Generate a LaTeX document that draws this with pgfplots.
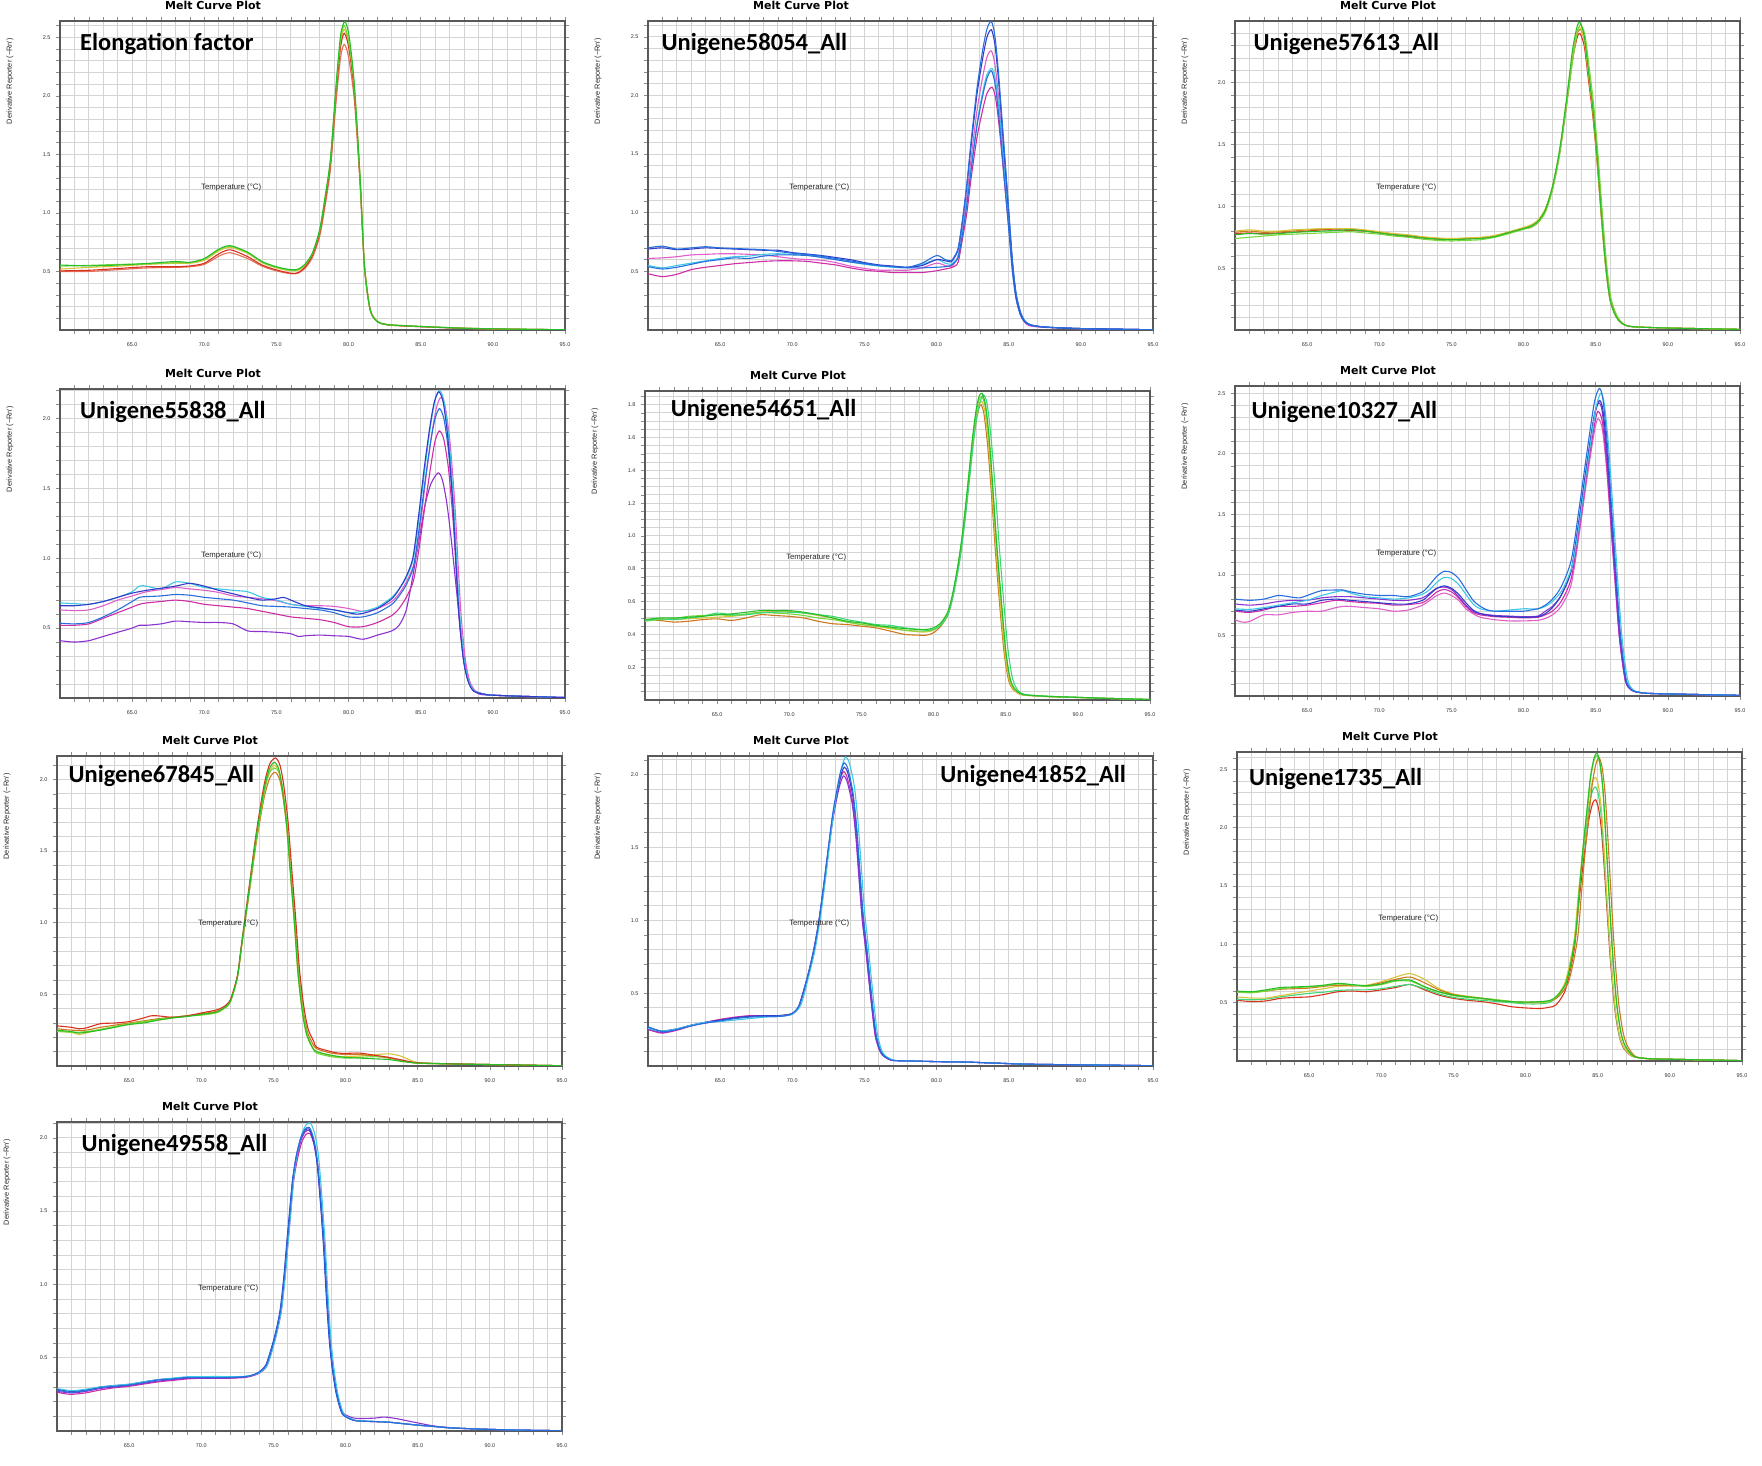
\documentclass[border=0pt]{standalone}
\usepackage{fontspec}
\setmainfont{Liberation Sans}
\newfontfamily\djv{DejaVu Sans}
\newfontfamily\carl{Carlito}
\usepackage{pgfplots}
\pgfplotsset{compat=1.18}
\newcommand\titlefont{\djv\bfseries\fontsize{11}{12}\selectfont}
\newcommand\genefont{\carl\bfseries\fontsize{24.5}{28}\selectfont}
\definecolor{cgreen}{RGB}{40,190,40}
\definecolor{clgreen}{RGB}{120,215,60}
\definecolor{cmint}{RGB}{60,215,120}
\definecolor{cyellow}{RGB}{215,195,60}
\definecolor{corange}{RGB}{205,120,30}
\definecolor{cred}{RGB}{215,50,30}
\definecolor{clred}{RGB}{230,110,90}
\definecolor{cblue}{RGB}{40,110,220}
\definecolor{cnavy}{RGB}{50,60,200}
\definecolor{ccyan}{RGB}{60,200,230}
\definecolor{cmag}{RGB}{205,45,165}
\definecolor{cpink}{RGB}{225,95,200}
\definecolor{cpurple}{RGB}{140,50,210}
\pgfplotsset{
 mc/.style={
  scale only axis, width=505pt, height=309pt, anchor=south west,
  xmin=60, xmax=95, ymin=0,
  xtick={65,70,...,95},
  minor xtick={61,62,...,94},
  grid=both,
  major grid style={black!17, line width=1pt},
  minor grid style={black!17, line width=1pt},
  axis line style={black!65, line width=1.5pt},
  tick align=outside,
  tick style={black!45, line width=0.6pt},
  major tick length=4pt, minor tick length=4pt,
  /pgf/number format/assume math mode=true,
  tick label style={font=\fontsize{5.5}{6}\selectfont, text=black!80},
  xticklabel style={yshift=-5pt, /pgf/number format/.cd, fixed, fixed zerofill, precision=1},
  yticklabel style={xshift=-2pt, /pgf/number format/.cd, fixed, fixed zerofill, precision=1},
  title={Melt Curve Plot},
  every axis title/.style={at={(axis description cs:0.303,1)}, anchor=base, yshift=11.5pt, font=\titlefont},
  xlabel={Temperature (°C)},
  every axis x label/.style={at={(axis description cs:0.339,0.46)}, anchor=center, font=\fontsize{7.8}{9}\selectfont, text=black!85},
  ylabel={Derivative Reporter (−Rn′)},
  every axis y label/.style={at={(axis description cs:-0.099,0.805)}, rotate=90, anchor=center, font=\fontsize{7.4}{9}\selectfont, text=black!85},
  every axis plot/.append style={line width=1.1pt, no marks, smooth, tension=0.45},
 }
}
\begin{document}
\begin{tikzpicture}[x=1pt,y=1pt]
\useasboundingbox (0,0) rectangle (1762,1466);
%================ P1 Elongation factor
\begin{axis}[mc, at={(60pt,1136pt)}, ymax=2.64, ytick={0.5,1.0,1.5,2.0,2.5}, minor ytick={0.1,0.2,...,2.6}]
\addplot[clred] coordinates {(60,.50)(62,.50)(64,.515)(66,.53)(68,.535)(69,.54)(70,.56)(71,.63)(71.8,.66)(73,.61)(74,.545)(75,.505)(76,.48)(76.5,.485)(77,.53)(77.5,.62)(78,.80)(78.4,1.08)(78.75,1.38)(79.15,1.97)(79.45,2.33)(79.7,2.44)(80,2.33)(80.4,1.96)(80.8,1.23)(81.1,.53)(81.5,.17)(82,.07)(82.5,.048)(83,.04)(85,.028)(88,.014)(91,.007)(95,.002)};
\addplot[cyellow] coordinates {(60,.52)(62,.535)(64,.545)(66,.56)(68,.57)(69,.57)(70,.595)(71,.675)(71.8,.705)(73,.655)(74,.575)(75,.53)(76,.505)(76.5,.51)(77,.55)(77.5,.645)(78,.84)(78.4,1.13)(78.75,1.44)(79.15,2.06)(79.45,2.45)(79.7,2.57)(80,2.45)(80.4,2.06)(80.8,1.29)(81.1,.56)(81.5,.18)(82,.075)(82.5,.05)(83,.043)(85,.03)(88,.016)(91,.008)(95,.002)};
\addplot[cred] coordinates {(60,.505)(62,.51)(64,.525)(66,.54)(68,.54)(69,.547)(70,.57)(71,.65)(71.8,.685)(73,.627)(74,.555)(75,.513)(76,.485)(76.5,.49)(77,.54)(77.5,.64)(78,.83)(78.4,1.12)(78.75,1.43)(79.15,2.05)(79.45,2.42)(79.7,2.535)(80,2.42)(80.4,2.03)(80.8,1.27)(81.1,.55)(81.5,.17)(82,.07)(82.5,.05)(83,.04)(85,.028)(88,.014)(91,.007)(95,.002)};
\addplot[clgreen] coordinates {(60,.545)(62,.552)(64,.56)(66,.565)(68,.575)(69,.575)(70,.605)(71,.685)(71.8,.715)(73,.66)(74,.58)(75,.535)(76,.51)(76.5,.515)(77,.56)(77.5,.655)(78,.85)(78.4,1.15)(78.75,1.46)(79.15,2.09)(79.45,2.48)(79.7,2.60)(80,2.47)(80.4,2.07)(80.8,1.28)(81.1,.55)(81.5,.17)(82,.07)(82.5,.05)(83,.042)(85,.03)(88,.015)(91,.008)(95,.002)};
\addplot[cgreen] coordinates {(60,.555)(62,.548)(64,.555)(66,.568)(68,.585)(69,.578)(70,.61)(71,.69)(71.8,.72)(73,.665)(74,.585)(75,.54)(76,.515)(76.5,.52)(77,.565)(77.5,.66)(78,.86)(78.4,1.16)(78.75,1.47)(79.15,2.12)(79.45,2.52)(79.75,2.635)(80.05,2.5)(80.4,2.1)(80.8,1.3)(81.1,.55)(81.5,.17)(82,.07)(82.5,.05)(83,.043)(85,.03)(88,.015)(91,.008)(95,.002)};
\node[anchor=base west, font=\genefont] at (rel axis cs:0.033,0.904) {Elongation factor};
\end{axis}
%================ P2 Unigene58054
\begin{axis}[mc, at={(648pt,1136pt)}, ymax=2.635, ytick={0.5,1.0,1.5,2.0,2.5}, minor ytick={0.1,0.2,...,2.6}]
\addplot[cmag] coordinates {(60,.48)(61,.455)(62,.475)(63,.515)(64,.535)(65,.55)(66,.565)(67,.575)(68,.585)(69,.59)(70,.59)(71,.585)(72,.57)(73,.555)(74,.53)(75,.51)(76,.50)(77,.49)(78,.49)(79,.49)(80,.505)(80.6,.52)(81,.53)(81.2,.54)(81.5,.58)(81.8,.78)(82.1,1.0)(82.4,1.30)(82.8,1.64)(83.2,1.88)(83.5,2.02)(83.85,2.07)(84.1,1.97)(84.35,1.72)(84.75,1.20)(85.05,.81)(85.3,.48)(85.55,.25)(85.85,.12)(86.15,.06)(86.5,.035)(87.5,.022)(90,.011)(95,.002)};
\addplot[cpink] coordinates {(60,.61)(61,.615)(62,.625)(63,.64)(64,.645)(65,.65)(66,.65)(67,.645)(68,.64)(69,.625)(70,.61)(71,.60)(72,.595)(73,.575)(74,.545)(75,.525)(76,.51)(77,.51)(78,.51)(79,.53)(80,.57)(80.6,.55)(81,.54)(81.2,.56)(81.5,.64)(81.8,.86)(82.1,1.14)(82.4,1.47)(82.8,1.87)(83.2,2.16)(83.5,2.33)(83.8,2.38)(84.05,2.26)(84.3,1.98)(84.7,1.38)(85,.93)(85.25,.55)(85.5,.29)(85.8,.14)(86.1,.07)(86.5,.04)(87.5,.025)(90,.012)(95,.002)};
\addplot[ccyan] coordinates {(60,.55)(61,.53)(62,.55)(63,.57)(64,.59)(65,.61)(66,.625)(67,.63)(68,.645)(69,.65)(70,.645)(71,.64)(72,.62)(73,.60)(74,.58)(75,.56)(76,.545)(77,.535)(78,.53)(79,.56)(80,.60)(80.6,.57)(81,.56)(81.2,.58)(81.5,.63)(81.8,.84)(82.1,1.09)(82.4,1.39)(82.8,1.76)(83.2,2.03)(83.5,2.18)(83.85,2.23)(84.1,2.12)(84.35,1.85)(84.75,1.29)(85.05,.87)(85.3,.51)(85.55,.27)(85.85,.13)(86.15,.07)(86.5,.04)(87.5,.025)(90,.012)(95,.002)};
\addplot[cblue] coordinates {(60,.54)(61,.52)(62,.535)(63,.56)(64,.585)(65,.60)(66,.615)(67,.61)(68,.63)(69,.64)(70,.64)(71,.635)(72,.62)(73,.60)(74,.58)(75,.565)(76,.55)(77,.54)(78,.53)(79,.53)(80,.535)(80.6,.54)(81,.55)(81.2,.57)(81.5,.62)(81.8,.82)(82.1,1.07)(82.4,1.37)(82.8,1.74)(83.2,2.0)(83.5,2.15)(83.8,2.21)(84.05,2.1)(84.3,1.84)(84.7,1.28)(85,.86)(85.25,.5)(85.5,.27)(85.8,.13)(86.1,.07)(86.5,.04)(87.5,.025)(90,.012)(95,.002)};
\addplot[cnavy] coordinates {(60,.69)(61,.70)(62,.685)(63,.69)(64,.70)(66,.69)(68,.68)(69,.68)(70,.66)(72,.635)(74,.60)(75,.575)(76,.555)(77,.545)(78,.535)(79,.55)(80,.60)(80.6,.59)(81,.58)(81.2,.61)(81.5,.69)(81.8,.93)(82.1,1.23)(82.4,1.58)(82.8,2.01)(83.2,2.32)(83.5,2.50)(83.8,2.56)(84.05,2.43)(84.3,2.12)(84.7,1.48)(85,1.0)(85.25,.59)(85.5,.31)(85.8,.15)(86.1,.077)(86.5,.045)(87.5,.025)(90,.012)(95,.002)};
\addplot[cblue] coordinates {(60,.70)(61,.715)(62,.69)(63,.70)(64,.71)(65,.70)(66,.695)(67,.69)(68,.685)(69,.67)(70,.655)(71,.645)(72,.63)(73,.61)(74,.59)(75,.57)(76,.55)(77,.54)(78,.535)(79,.57)(80,.635)(80.6,.60)(81,.59)(81.2,.62)(81.5,.70)(81.8,.945)(82.1,1.25)(82.4,1.62)(82.8,2.06)(83.2,2.39)(83.5,2.57)(83.8,2.63)(84.05,2.50)(84.3,2.18)(84.7,1.53)(85,1.03)(85.25,.60)(85.5,.32)(85.8,.16)(86.1,.08)(86.5,.045)(87.5,.025)(90,.012)(95,.002)};
\node[anchor=base west, font=\genefont] at (rel axis cs:0.02,0.904) {Unigene58054\_All};
\end{axis}
%================ P3 Unigene57613
\begin{axis}[mc, at={(1235pt,1136pt)}, ymax=2.5, ytick={0.5,1.0,1.5,2.0}, minor ytick={0.1,0.2,...,2.4}]
\addplot[cred] coordinates {(60,.78)(61,.785)(62,.78)(63,.785)(64,.79)(65,.80)(66,.81)(67,.81)(68,.805)(69,.80)(70,.785)(71,.77)(72,.755)(73,.745)(74,.735)(75,.735)(76,.74)(77,.745)(78,.755)(79,.785)(80,.82)(80.5,.83)(81,.87)(81.5,.96)(82,1.14)(82.5,1.43)(83,1.84)(83.4,2.19)(83.7,2.36)(83.9,2.40)(84.2,2.30)(84.5,2.02)(84.8,1.73)(85.1,1.35)(85.4,.9)(85.7,.5)(86,.24)(86.4,.11)(86.8,.054)(87.5,.027)(90,.016)(95,.005)};
\addplot[corange] coordinates {(60,.79)(61,.80)(62,.79)(63,.795)(64,.80)(65,.81)(66,.815)(67,.82)(68,.815)(69,.805)(70,.79)(71,.775)(72,.765)(73,.75)(74,.74)(75,.735)(76,.74)(77,.745)(78,.76)(79,.79)(80,.825)(80.5,.84)(81,.88)(81.5,.97)(82,1.15)(82.5,1.44)(83,1.86)(83.4,2.22)(83.7,2.39)(83.95,2.43)(84.25,2.33)(84.55,2.04)(84.85,1.75)(85.15,1.36)(85.45,.9)(85.75,.5)(86.05,.24)(86.45,.11)(86.85,.054)(87.5,.027)(90,.016)(95,.005)};
\addplot[cyellow] coordinates {(60,.80)(61,.81)(62,.80)(63,.80)(64,.81)(65,.815)(66,.82)(67,.82)(68,.82)(69,.81)(70,.795)(71,.78)(72,.77)(73,.755)(74,.745)(75,.74)(76,.745)(77,.75)(78,.765)(79,.795)(80,.83)(80.5,.85)(81,.89)(81.5,.98)(82,1.16)(82.5,1.45)(83,1.87)(83.4,2.24)(83.7,2.41)(83.9,2.45)(84.2,2.35)(84.5,2.06)(84.8,1.77)(85.1,1.37)(85.4,.91)(85.7,.5)(86,.24)(86.4,.11)(86.8,.054)(87.5,.027)(90,.016)(95,.005)};
\addplot[clgreen] coordinates {(60,.74)(61,.75)(62,.76)(63,.77)(64,.775)(65,.78)(66,.785)(67,.79)(68,.795)(69,.785)(70,.775)(71,.76)(72,.75)(73,.735)(74,.725)(75,.72)(76,.725)(77,.73)(78,.75)(79,.78)(80,.815)(80.5,.83)(81,.87)(81.5,.95)(82,1.13)(82.5,1.42)(83,1.84)(83.45,2.22)(83.75,2.42)(83.95,2.47)(84.25,2.39)(84.55,2.12)(84.85,1.83)(85.15,1.43)(85.45,.96)(85.75,.54)(86.05,.26)(86.45,.12)(86.85,.056)(87.5,.028)(90,.016)(95,.005)};
\addplot[cgreen] coordinates {(60,.77)(61,.78)(62,.775)(63,.78)(64,.79)(65,.795)(66,.80)(67,.805)(68,.81)(69,.80)(70,.785)(71,.77)(72,.76)(73,.745)(74,.735)(75,.73)(76,.735)(77,.74)(78,.755)(79,.79)(80,.82)(80.5,.84)(81,.88)(81.5,.97)(82,1.16)(82.5,1.46)(83,1.89)(83.4,2.27)(83.7,2.45)(83.9,2.49)(84.2,2.38)(84.5,2.09)(84.8,1.79)(85.1,1.39)(85.4,.92)(85.7,.51)(86,.24)(86.4,.11)(86.8,.054)(87.5,.027)(90,.016)(95,.005)};
\node[anchor=base west, font=\genefont] at (rel axis cs:0.03,0.904) {Unigene57613\_All};
\end{axis}
%================ P4 Unigene55838
\begin{axis}[mc, at={(60pt,768pt)}, ymax=2.21, ytick={0.5,1.0,1.5,2.0}, minor ytick={0.1,0.2,...,2.2}]
\addplot[cpurple] coordinates {(60,.41)(61,.40)(62,.41)(63,.44)(64,.47)(65,.50)(65.5,.52)(66,.52)(67,.53)(68,.55)(69,.545)(70,.54)(71,.54)(72,.53)(73,.48)(74,.475)(75,.47)(76,.46)(76.5,.44)(77,.445)(78,.45)(79,.445)(80,.44)(81,.42)(82,.45)(83,.48)(83.5,.52)(84,.63)(84.5,.9)(85,1.2)(85.3,1.38)(85.7,1.53)(86.2,1.61)(86.5,1.56)(86.8,1.4)(87.1,1.15)(87.4,.85)(87.7,.55)(88,.3)(88.4,.1)(89,.03)(90,.02)(92,.012)(95,.003)};
\addplot[cmag] coordinates {(60,.52)(61,.52)(62,.53)(63,.57)(64,.61)(65,.65)(65.5,.67)(66,.68)(67,.69)(68,.70)(69,.69)(70,.67)(71,.66)(72,.65)(73,.64)(74,.62)(75,.60)(76,.58)(77,.57)(78,.56)(79,.54)(80,.51)(81,.51)(82,.54)(83,.59)(83.5,.64)(84,.72)(84.5,.84)(84.9,1.08)(85.3,1.38)(85.7,1.66)(86,1.84)(86.3,1.91)(86.6,1.85)(86.9,1.66)(87.1,1.45)(87.3,1.19)(87.5,.84)(87.7,.52)(88,.25)(88.3,.12)(88.7,.05)(89.5,.025)(90,.02)(92,.012)(95,.003)};
\addplot[cpink] coordinates {(60,.63)(61,.625)(62,.63)(63,.66)(64,.70)(65,.73)(66,.76)(67,.775)(68,.79)(69,.78)(70,.77)(71,.755)(72,.73)(73,.72)(74,.71)(75,.695)(76,.67)(77,.66)(78,.66)(79,.655)(80,.64)(81,.62)(82,.64)(83,.69)(83.6,.76)(84.1,.85)(84.6,.98)(85,1.26)(85.4,1.61)(85.8,1.91)(86.1,2.08)(86.4,2.15)(86.7,2.08)(87,1.86)(87.2,1.62)(87.4,1.33)(87.6,.94)(87.8,.59)(88.1,.27)(88.4,.12)(88.8,.05)(89.5,.025)(90,.02)(92,.012)(95,.003)};
\addplot[cblue] coordinates {(60,.535)(61,.53)(62,.54)(63,.58)(64,.63)(65,.69)(65.5,.72)(66,.725)(67,.73)(68,.74)(69,.735)(70,.72)(71,.71)(72,.70)(73,.68)(74,.66)(75,.655)(76,.65)(77,.64)(78,.63)(79,.61)(80,.58)(81,.58)(82,.61)(83,.67)(83.5,.73)(84,.81)(84.5,.94)(84.9,1.22)(85.3,1.55)(85.7,1.84)(86,2.0)(86.3,2.07)(86.6,2.0)(86.9,1.79)(87.1,1.56)(87.3,1.28)(87.5,.9)(87.7,.56)(88,.26)(88.3,.12)(88.7,.05)(89.5,.025)(90,.02)(92,.012)(95,.003)};
\addplot[ccyan] coordinates {(60,.68)(61,.675)(62,.67)(63,.69)(64,.72)(65,.76)(65.5,.80)(66,.80)(67,.78)(68,.83)(69,.82)(70,.79)(71,.78)(72,.77)(73,.76)(74,.72)(75,.70)(76,.67)(77,.655)(78,.64)(79,.63)(80,.61)(81,.62)(82,.65)(83,.72)(83.5,.78)(84,.86)(84.5,1.0)(84.9,1.3)(85.3,1.65)(85.7,1.96)(86,2.13)(86.3,2.2)(86.6,2.13)(86.9,1.9)(87.1,1.66)(87.3,1.36)(87.5,.96)(87.7,.6)(88,.28)(88.3,.13)(88.7,.05)(89.5,.025)(90,.02)(92,.012)(95,.003)};
\addplot[cnavy] coordinates {(60,.66)(61,.66)(62,.67)(63,.69)(64,.72)(65,.75)(66,.77)(67,.785)(68,.80)(69,.82)(70,.80)(71,.77)(72,.745)(73,.72)(74,.70)(75,.71)(75.5,.72)(76,.70)(77,.66)(78,.645)(79,.63)(80,.61)(80.5,.60)(81,.605)(82,.64)(83,.71)(83.45,.77)(83.95,.86)(84.45,1.0)(84.85,1.3)(85.25,1.65)(85.65,1.95)(85.95,2.12)(86.25,2.19)(86.55,2.12)(86.85,1.89)(87.05,1.65)(87.25,1.35)(87.45,.95)(87.65,.6)(87.95,.28)(88.25,.13)(88.65,.05)(89.5,.025)(90,.02)(92,.012)(95,.003)};
\node[anchor=base west, font=\genefont] at (rel axis cs:0.033,0.904) {Unigene55838\_All};
\end{axis}
%================ P5 Unigene54651
\begin{axis}[mc, at={(645pt,766pt)}, ymax=1.884, ytick={0.2,0.4,...,1.8}, minor ytick={0.05,0.1,...,1.85}]
\addplot[corange] coordinates {(60,.49)(61,.485)(62,.475)(63,.48)(64,.49)(65,.495)(66,.485)(67,.50)(68,.52)(69,.515)(70,.51)(71,.50)(72,.48)(73,.465)(74,.46)(75,.45)(76,.44)(77,.42)(78,.40)(79,.395)(79.5,.395)(80,.41)(80.5,.45)(81,.52)(81.35,.64)(81.7,.80)(81.95,.95)(82.2,1.13)(82.45,1.33)(82.7,1.54)(82.95,1.70)(83.15,1.78)(83.3,1.80)(83.5,1.74)(83.75,1.55)(84,1.27)(84.3,.89)(84.6,.56)(84.9,.28)(85.2,.12)(85.5,.065)(86,.035)(86.5,.028)(88,.02)(90,.015)(92,.01)(95,.003)};
\addplot[cyellow] coordinates {(60,.49)(61,.495)(62,.49)(63,.495)(64,.50)(65,.505)(66,.51)(67,.52)(68,.535)(69,.54)(70,.54)(71,.53)(72,.515)(73,.50)(74,.475)(75,.46)(76,.45)(77,.435)(78,.425)(79,.415)(79.5,.415)(80,.425)(80.5,.46)(81,.53)(81.35,.65)(81.7,.81)(81.95,.96)(82.2,1.14)(82.45,1.35)(82.7,1.56)(82.95,1.72)(83.15,1.80)(83.35,1.82)(83.55,1.76)(83.8,1.57)(84.05,1.28)(84.35,.9)(84.65,.57)(84.95,.28)(85.25,.12)(85.55,.065)(86,.035)(86.5,.028)(88,.02)(90,.015)(92,.01)(95,.003)};
\addplot[clgreen] coordinates {(60,.48)(61,.49)(62,.495)(63,.51)(64,.515)(65,.52)(66,.515)(67,.525)(68,.535)(69,.53)(70,.525)(71,.515)(72,.50)(73,.49)(74,.475)(75,.46)(76,.45)(77,.44)(78,.425)(79,.42)(79.5,.42)(80,.43)(80.5,.46)(81,.53)(81.35,.65)(81.7,.82)(81.95,.97)(82.2,1.16)(82.45,1.37)(82.7,1.58)(82.95,1.75)(83.15,1.83)(83.35,1.85)(83.6,1.78)(83.85,1.58)(84.1,1.29)(84.4,.91)(84.7,.59)(85,.3)(85.3,.13)(85.6,.07)(86,.04)(86.5,.03)(88,.022)(90,.016)(92,.01)(95,.003)};
\addplot[cmint] coordinates {(60,.485)(61,.495)(62,.49)(63,.50)(64,.51)(65,.53)(66,.52)(67,.52)(68,.53)(69,.535)(70,.535)(71,.53)(72,.52)(73,.51)(74,.49)(75,.475)(76,.46)(77,.455)(78,.44)(79,.43)(79.5,.425)(80,.43)(80.5,.455)(81,.52)(81.35,.63)(81.7,.79)(81.95,.93)(82.2,1.11)(82.45,1.31)(82.7,1.52)(82.95,1.7)(83.2,1.81)(83.45,1.86)(83.7,1.81)(83.95,1.63)(84.25,1.32)(84.55,.94)(84.85,.61)(85.15,.31)(85.45,.14)(85.75,.07)(86.1,.04)(86.6,.03)(88,.022)(90,.016)(92,.01)(95,.003)};
\addplot[cgreen] coordinates {(60,.49)(61,.50)(62,.50)(63,.505)(64,.51)(65,.52)(66,.525)(67,.535)(68,.545)(69,.545)(70,.545)(71,.535)(72,.52)(73,.50)(74,.48)(75,.47)(76,.455)(77,.445)(78,.435)(79,.43)(79.5,.43)(80,.44)(80.5,.47)(81,.54)(81.35,.66)(81.7,.83)(81.95,.98)(82.2,1.17)(82.45,1.38)(82.7,1.6)(82.95,1.77)(83.15,1.85)(83.35,1.87)(83.6,1.8)(83.85,1.6)(84.1,1.3)(84.4,.92)(84.7,.6)(85,.3)(85.3,.13)(85.6,.07)(86,.04)(86.5,.03)(88,.022)(90,.016)(92,.01)(95,.003)};
\node[anchor=base west, font=\genefont] at (rel axis cs:0.044,0.917) {Unigene54651\_All};
\end{axis}
%================ P6 Unigene10327
\begin{axis}[mc, at={(1235pt,770pt)}, height=310pt, ymax=2.56, ytick={0.5,1.0,1.5,2.0,2.5}, minor ytick={0.1,0.2,...,2.5}]
\addplot[cpink] coordinates {(60,.63)(60.5,.61)(61,.615)(62,.67)(63,.67)(64,.69)(65,.70)(66,.70)(67,.73)(67.5,.74)(68,.74)(69,.73)(70,.72)(71,.70)(72,.71)(73,.75)(73.5,.79)(74,.83)(74.5,.85)(75,.83)(75.5,.79)(76,.72)(76.5,.68)(77,.65)(78,.63)(79,.62)(80,.62)(81,.625)(81.5,.64)(82,.67)(82.6,.74)(83.3,.92)(83.85,1.33)(84.4,1.80)(84.9,2.18)(85.15,2.29)(85.45,2.21)(85.75,1.88)(86.05,1.40)(86.35,.92)(86.65,.47)(87.05,.13)(87.45,.05)(88,.03)(89,.02)(95,.005)};
\addplot[cmag] coordinates {(60,.70)(61,.69)(62,.71)(63,.74)(64,.74)(65,.75)(66,.77)(67,.79)(68,.78)(69,.77)(70,.765)(71,.75)(72,.755)(73,.77)(73.5,.81)(74,.86)(74.5,.88)(75,.86)(75.5,.81)(76,.74)(76.5,.69)(77,.67)(78,.655)(79,.65)(80,.645)(81,.65)(81.5,.67)(82,.70)(82.6,.78)(83.3,.97)(83.85,1.38)(84.4,1.85)(84.9,2.23)(85.15,2.35)(85.45,2.27)(85.75,1.93)(86.05,1.43)(86.35,.94)(86.65,.48)(87.05,.13)(87.45,.05)(88,.03)(89,.02)(95,.005)};
\addplot[cpurple] coordinates {(60,.76)(61,.75)(62,.76)(63,.78)(64,.79)(65,.79)(66,.81)(67,.82)(68,.82)(69,.81)(70,.80)(71,.79)(72,.79)(73,.81)(73.5,.85)(74,.89)(74.5,.90)(75,.88)(75.5,.82)(76,.75)(76.5,.70)(77,.68)(78,.665)(79,.66)(80,.655)(81,.66)(81.5,.70)(82,.74)(82.6,.83)(83.3,1.03)(83.85,1.44)(84.4,1.91)(84.9,2.30)(85.2,2.42)(85.45,2.35)(85.75,2.0)(86.05,1.48)(86.35,.97)(86.65,.49)(87.05,.13)(87.45,.05)(88,.03)(89,.02)(95,.005)};
\addplot[cnavy] coordinates {(60,.71)(61,.70)(62,.72)(63,.74)(64,.76)(65,.76)(66,.79)(67,.80)(68,.79)(69,.78)(70,.77)(71,.76)(72,.76)(73,.79)(73.5,.84)(74,.89)(74.5,.91)(75,.89)(75.5,.84)(76,.77)(76.5,.71)(77,.68)(78,.66)(79,.655)(80,.65)(81,.655)(81.5,.68)(82,.73)(82.6,.83)(83.3,1.04)(83.85,1.46)(84.4,1.93)(84.9,2.32)(85.25,2.44)(85.5,2.36)(85.8,2.0)(86.1,1.49)(86.4,.98)(86.7,.5)(87.1,.13)(87.5,.05)(88,.03)(89,.02)(95,.005)};
\addplot[ccyan] coordinates {(60,.72)(61,.715)(62,.73)(63,.75)(64,.77)(65,.79)(66,.83)(67,.86)(67.5,.87)(68,.85)(69,.82)(70,.81)(71,.80)(72,.81)(73,.84)(73.5,.88)(74,.94)(74.5,.98)(75,.97)(75.5,.92)(76,.84)(76.5,.76)(77,.72)(78,.70)(79,.71)(80,.72)(81,.72)(81.5,.74)(82,.78)(82.7,.88)(83.4,1.09)(83.95,1.5)(84.5,1.97)(85,2.37)(85.35,2.50)(85.6,2.41)(85.9,2.05)(86.2,1.53)(86.5,1.0)(86.8,.51)(87.2,.14)(87.6,.05)(88.1,.03)(89,.02)(95,.005)};
\addplot[cblue] coordinates {(60,.80)(61,.79)(62,.80)(63,.83)(64,.815)(64.5,.81)(65,.83)(66,.87)(67,.875)(67.5,.875)(68,.86)(69,.84)(70,.83)(71,.83)(72,.82)(73,.86)(73.5,.92)(74,.99)(74.5,1.03)(75,1.02)(75.5,.97)(76,.88)(76.5,.79)(77,.74)(77.5,.71)(78,.70)(79,.70)(80,.70)(80.5,.71)(81,.72)(81.5,.75)(82,.80)(82.6,.90)(83.3,1.12)(83.85,1.55)(84.4,2.02)(84.9,2.42)(85.25,2.54)(85.5,2.45)(85.8,2.08)(86.1,1.55)(86.4,1.02)(86.7,.52)(87.1,.14)(87.5,.05)(88,.03)(89,.02)(95,.005)};
\node[anchor=base west, font=\genefont] at (rel axis cs:0.026,0.894) {Unigene10327\_All};
\end{axis}
%================ P7 Unigene67845
\begin{axis}[mc, at={(57pt,400pt)}, height=310pt, ymax=2.164, ytick={0.5,1.0,1.5,2.0}, minor ytick={0.1,0.2,...,2.1}]
\addplot[cyellow] coordinates {(60,.24)(61,.235)(61.5,.22)(62,.23)(63,.255)(64,.275)(65,.29)(66,.305)(67,.32)(68,.335)(69,.35)(70,.36)(71,.37)(71.5,.395)(72,.445)(72.5,.62)(72.8,.84)(73.3,1.21)(73.8,1.58)(74.35,1.91)(74.7,2.05)(75.05,2.10)(75.35,2.06)(75.6,1.93)(75.9,1.68)(76.15,1.37)(76.45,.99)(76.7,.64)(77,.38)(77.3,.22)(77.7,.13)(78,.10)(79,.07)(80,.065)(81,.07)(82,.078)(83,.085)(83.8,.07)(84.5,.04)(85,.025)(87,.015)(90,.01)(95,.002)};
\addplot[corange] coordinates {(60,.26)(61,.25)(62,.25)(63,.27)(64,.285)(65,.30)(66,.315)(67,.33)(68,.34)(69,.35)(70,.365)(71,.38)(71.5,.40)(72,.45)(72.5,.62)(72.8,.84)(73.3,1.19)(73.8,1.55)(74.35,1.87)(74.75,2.01)(75.1,2.05)(75.4,2.01)(75.65,1.89)(75.95,1.65)(76.2,1.35)(76.5,.98)(76.75,.65)(77.05,.4)(77.35,.24)(77.75,.15)(78,.12)(79,.09)(80,.08)(81,.08)(82,.07)(83,.055)(84,.035)(85,.02)(87,.015)(90,.01)(95,.002)};
\addplot[clgreen] coordinates {(60,.245)(61,.235)(62,.24)(63,.255)(64,.275)(65,.295)(66,.31)(67,.325)(68,.34)(69,.35)(70,.355)(71,.37)(71.5,.395)(72,.445)(72.5,.615)(72.8,.84)(73.3,1.2)(73.8,1.57)(74.35,1.9)(74.7,2.04)(75.05,2.08)(75.4,2.05)(75.65,1.93)(75.95,1.68)(76.2,1.37)(76.5,.99)(76.75,.65)(77.05,.38)(77.35,.22)(77.75,.12)(78,.09)(79,.065)(80,.055)(81,.06)(82,.065)(83,.06)(84,.035)(85,.02)(87,.015)(90,.01)(95,.002)};
\addplot[cred] coordinates {(60,.28)(61,.27)(61.5,.26)(62,.265)(63,.295)(64,.30)(65,.31)(66,.335)(66.5,.35)(67,.35)(68,.34)(69,.35)(70,.37)(71,.39)(71.5,.41)(72,.46)(72.5,.63)(72.8,.86)(73.3,1.24)(73.8,1.62)(74.35,1.96)(74.75,2.11)(75.15,2.15)(75.45,2.1)(75.7,1.97)(76,1.72)(76.25,1.4)(76.55,1.02)(76.8,.68)(77.1,.42)(77.4,.26)(77.8,.17)(78,.13)(79,.10)(79.5,.09)(80,.088)(81,.09)(82,.075)(83,.06)(84,.04)(85,.022)(87,.016)(90,.01)(95,.002)};
\addplot[cgreen] coordinates {(60,.25)(61,.24)(61.5,.23)(62,.235)(63,.25)(64,.27)(65,.29)(66,.30)(67,.32)(68,.335)(69,.345)(70,.36)(71,.375)(71.5,.40)(72,.45)(72.5,.62)(72.8,.85)(73.3,1.22)(73.8,1.6)(74.35,1.93)(74.7,2.07)(75.05,2.12)(75.35,2.08)(75.6,1.95)(75.9,1.7)(76.15,1.38)(76.45,1.0)(76.7,.65)(77,.38)(77.3,.22)(77.7,.13)(78,.10)(79,.075)(80,.06)(81,.055)(82,.05)(83,.045)(84,.03)(85,.02)(87,.015)(90,.01)(95,.002)};
\node[anchor=base west, font=\genefont] at (rel axis cs:0.016,0.914) {Unigene67845\_All};
\end{axis}
%================ P8 Unigene41852
\begin{axis}[mc, at={(648pt,400pt)}, height=310pt, ymax=2.127, ytick={0.5,1.0,1.5,2.0}, minor ytick={0.1,0.2,...,2.1}]
\addplot[cmag] coordinates {(60,.25)(60.5,.235)(61,.225)(62,.245)(63,.275)(64,.30)(65,.32)(66,.335)(67,.345)(68,.345)(69,.345)(70,.36)(70.45,.41)(71.05,.61)(71.45,.78)(71.8,.97)(72.15,1.22)(72.45,1.45)(72.75,1.68)(73.05,1.85)(73.3,1.96)(73.55,2.02)(73.8,1.98)(74.15,1.83)(74.4,1.61)(74.6,1.34)(74.85,1.02)(75.1,.8)(75.3,.6)(75.55,.37)(75.75,.21)(76,.12)(76.25,.075)(76.85,.04)(78,.035)(80,.03)(82,.027)(84,.02)(86,.013)(88,.01)(90,.008)(95,.002)};
\addplot[cpurple] coordinates {(60,.255)(61,.23)(62,.25)(63,.28)(64,.295)(65,.31)(66,.33)(67,.34)(68,.34)(69,.34)(70,.355)(70.45,.41)(71.05,.61)(71.45,.78)(71.8,.96)(72.15,1.2)(72.45,1.43)(72.75,1.65)(73.05,1.82)(73.3,1.93)(73.55,1.99)(73.8,1.95)(74.15,1.8)(74.4,1.58)(74.6,1.32)(74.85,1.0)(75.1,.79)(75.3,.6)(75.55,.37)(75.75,.21)(76,.12)(76.25,.075)(76.85,.04)(78,.035)(80,.03)(82,.027)(84,.02)(86,.013)(88,.01)(90,.008)(95,.002)};
\addplot[cnavy] coordinates {(60,.265)(60.5,.25)(61,.24)(62,.255)(63,.28)(64,.30)(65,.315)(66,.33)(67,.34)(68,.345)(69,.345)(69.5,.35)(70,.36)(70.5,.42)(71.1,.62)(71.5,.79)(71.85,.99)(72.2,1.24)(72.5,1.48)(72.8,1.7)(73.1,1.87)(73.35,1.99)(73.6,2.05)(73.85,2.01)(74.2,1.85)(74.45,1.63)(74.65,1.36)(74.9,1.03)(75.15,.81)(75.35,.61)(75.6,.37)(75.8,.21)(76.05,.12)(76.3,.075)(76.9,.04)(78,.035)(80,.03)(82,.027)(84,.02)(86,.013)(88,.01)(90,.008)(95,.002)};
\addplot[ccyan] coordinates {(60,.26)(60.5,.245)(61,.24)(61.5,.245)(62,.255)(63,.28)(64,.30)(65,.305)(66,.315)(67,.325)(68,.335)(69,.34)(69.5,.345)(70,.355)(70.6,.42)(71.2,.64)(71.6,.81)(71.95,1.02)(72.3,1.28)(72.6,1.53)(72.9,1.76)(73.2,1.94)(73.45,2.06)(73.7,2.12)(73.95,2.08)(74.3,1.92)(74.55,1.68)(74.75,1.41)(75,1.07)(75.25,.84)(75.45,.63)(75.7,.39)(75.9,.22)(76.15,.12)(76.4,.075)(77,.04)(78,.035)(80,.03)(82,.027)(84,.02)(86,.013)(88,.01)(90,.008)(95,.002)};
\addplot[cblue] coordinates {(60,.27)(60.5,.25)(61,.235)(61.5,.24)(62,.25)(63,.275)(64,.295)(65,.31)(66,.325)(67,.335)(68,.34)(69,.34)(69.5,.345)(70,.36)(70.5,.42)(71.1,.63)(71.5,.8)(71.85,1.0)(72.2,1.26)(72.5,1.5)(72.8,1.73)(73.1,1.9)(73.35,2.02)(73.6,2.08)(73.85,2.04)(74.2,1.88)(74.45,1.65)(74.65,1.38)(74.9,1.05)(75.15,.82)(75.35,.62)(75.6,.38)(75.8,.22)(76.05,.12)(76.3,.075)(76.9,.04)(78,.035)(80,.03)(82,.027)(84,.02)(86,.013)(88,.01)(90,.008)(95,.002)};
\node[anchor=base west, font=\genefont] at (rel axis cs:0.572,0.914) {Unigene41852\_All};
\end{axis}
%================ P9 Unigene1735
\begin{axis}[mc, at={(1237pt,405pt)}, ymax=2.65, ytick={0.5,1.0,1.5,2.0,2.5}, minor ytick={0.1,0.2,...,2.6}]
\addplot[cred] coordinates {(60,.52)(61,.51)(62,.515)(63,.537)(64,.545)(65,.55)(66,.57)(67,.594)(68,.60)(69,.594)(70,.61)(71,.63)(72,.657)(73,.61)(74,.565)(75,.537)(76,.52)(77,.509)(78,.49)(79,.466)(80,.455)(81,.45)(81.6,.46)(82.1,.48)(82.7,.59)(83.1,.78)(83.4,.98)(83.65,1.3)(83.9,1.6)(84.15,1.85)(84.4,2.08)(84.65,2.21)(84.85,2.24)(85.05,2.17)(85.25,1.99)(85.45,1.66)(85.65,1.28)(85.9,.83)(86.2,.43)(86.5,.21)(86.8,.11)(87.4,.04)(88.5,.02)(90,.015)(95,.003)};
\addplot[cmint] coordinates {(60,.53)(61,.525)(62,.53)(63,.55)(64,.565)(65,.58)(66,.59)(67,.605)(68,.61)(69,.61)(70,.62)(71,.64)(72,.655)(73,.62)(74,.575)(75,.545)(76,.53)(77,.52)(78,.51)(79,.50)(80,.49)(81,.49)(81.6,.50)(82.1,.54)(82.7,.65)(83.1,.84)(83.4,1.05)(83.65,1.38)(83.9,1.68)(84.15,1.94)(84.4,2.19)(84.65,2.32)(84.85,2.35)(85.05,2.28)(85.25,2.09)(85.45,1.74)(85.65,1.34)(85.9,.87)(86.2,.45)(86.5,.22)(86.8,.12)(87.4,.04)(88.5,.02)(90,.015)(95,.003)};
\addplot[cyellow] coordinates {(60,.55)(61,.54)(62,.54)(63,.56)(64,.58)(65,.60)(66,.62)(67,.64)(68,.645)(69,.65)(70,.68)(71,.72)(72,.75)(73,.70)(74,.62)(75,.575)(76,.555)(77,.54)(78,.525)(79,.51)(80,.50)(81,.50)(81.6,.51)(82.1,.55)(82.7,.66)(83.1,.86)(83.4,1.07)(83.65,1.42)(83.9,1.73)(84.15,2.0)(84.4,2.26)(84.65,2.4)(84.85,2.43)(85.05,2.36)(85.25,2.16)(85.45,1.8)(85.65,1.38)(85.9,.9)(86.2,.47)(86.5,.23)(86.8,.12)(87.4,.04)(88.5,.02)(90,.015)(95,.003)};
\addplot[corange] coordinates {(60,.595)(61,.59)(62,.60)(63,.615)(64,.62)(65,.625)(66,.64)(67,.65)(68,.645)(69,.645)(70,.67)(71,.70)(72,.72)(73,.67)(74,.61)(75,.57)(76,.55)(77,.535)(78,.52)(79,.51)(80,.505)(81,.505)(81.85,.52)(82.35,.56)(82.95,.67)(83.35,.87)(83.65,1.1)(83.9,1.48)(84.15,1.82)(84.4,2.12)(84.65,2.4)(84.9,2.56)(85.1,2.60)(85.3,2.52)(85.5,2.31)(85.7,1.92)(85.9,1.48)(86.15,.96)(86.45,.5)(86.75,.25)(87.05,.13)(87.6,.04)(88.5,.02)(90,.015)(95,.003)};
\addplot[clgreen] coordinates {(60,.59)(61,.585)(62,.60)(63,.62)(64,.63)(65,.635)(66,.645)(67,.66)(68,.65)(69,.64)(70,.655)(71,.685)(72,.685)(73,.635)(74,.59)(75,.56)(76,.545)(77,.535)(78,.525)(79,.51)(80,.505)(81,.505)(81.7,.515)(82.2,.555)(82.8,.665)(83.2,.87)(83.5,1.11)(83.75,1.49)(84,1.84)(84.25,2.13)(84.5,2.42)(84.75,2.58)(84.95,2.62)(85.15,2.54)(85.35,2.33)(85.55,1.94)(85.75,1.49)(86,.97)(86.3,.5)(86.6,.25)(86.9,.13)(87.5,.04)(88.5,.02)(90,.015)(95,.003)};
\addplot[cgreen] coordinates {(60,.60)(61,.594)(62,.61)(63,.63)(64,.635)(65,.64)(66,.65)(67,.666)(68,.655)(69,.646)(70,.66)(70.5,.68)(71,.69)(72,.694)(73,.637)(74,.594)(75,.566)(76,.55)(77,.537)(78,.52)(79,.509)(80,.505)(81,.509)(81.7,.52)(82.2,.56)(82.8,.67)(83.2,.88)(83.5,1.12)(83.75,1.5)(84,1.85)(84.25,2.15)(84.5,2.44)(84.75,2.6)(84.95,2.64)(85.15,2.56)(85.35,2.35)(85.55,1.95)(85.75,1.5)(86,.98)(86.3,.51)(86.6,.25)(86.9,.13)(87.5,.04)(88.5,.02)(90,.015)(95,.003)};
\node[anchor=base west, font=\genefont] at (rel axis cs:0.017,0.893) {Unigene1735\_All};
\end{axis}
%================ P10 Unigene49558
\begin{axis}[mc, at={(57pt,35pt)}, ymax=2.108, ytick={0.5,1.0,1.5,2.0}, minor ytick={0.1,0.2,...,2.1}]
\addplot[cmag] coordinates {(60,.265)(60.5,.255)(61,.25)(62,.26)(63,.28)(64,.295)(65,.305)(66,.32)(67,.335)(68,.345)(69,.355)(70,.36)(71,.36)(72,.36)(73,.365)(73.5,.375)(74.03,.395)(74.53,.44)(74.93,.56)(75.23,.67)(75.53,.81)(75.78,1.03)(75.98,1.25)(76.18,1.47)(76.38,1.69)(76.63,1.84)(76.93,1.96)(77.23,2.02)(77.53,2.03)(77.83,1.95)(78.08,1.80)(78.33,1.52)(78.53,1.25)(78.73,.9)(78.93,.61)(79.13,.42)(79.38,.26)(79.63,.17)(79.88,.11)(80.53,.075)(81,.068)(82,.064)(83,.06)(84,.05)(85,.04)(86,.032)(87,.023)(88,.018)(90,.011)(92,.006)(95,.002)};
\addplot[cpurple] coordinates {(60,.27)(61,.26)(62,.27)(63,.29)(64,.30)(65,.31)(66,.325)(67,.34)(68,.35)(69,.36)(70,.36)(71,.36)(72,.362)(73,.368)(73.5,.378)(74,.40)(74.5,.45)(74.9,.565)(75.2,.675)(75.5,.82)(75.75,1.04)(75.95,1.27)(76.15,1.49)(76.35,1.70)(76.6,1.86)(76.9,1.98)(77.2,2.04)(77.5,2.05)(77.8,1.97)(78.05,1.82)(78.3,1.53)(78.5,1.26)(78.7,.91)(78.9,.62)(79.1,.43)(79.35,.28)(79.6,.18)(79.85,.12)(80.5,.09)(81,.085)(82,.088)(82.7,.095)(83.5,.085)(84.5,.065)(86,.036)(87,.025)(88,.018)(90,.011)(92,.006)(95,.002)};
\addplot[cnavy] coordinates {(60,.285)(61,.27)(62,.28)(63,.30)(64,.31)(65,.318)(66,.335)(67,.35)(68,.358)(69,.365)(70,.366)(71,.366)(72,.366)(73,.37)(73.5,.38)(73.97,.40)(74.47,.45)(74.87,.57)(75.17,.68)(75.47,.83)(75.72,1.05)(75.92,1.28)(76.12,1.5)(76.32,1.71)(76.57,1.87)(76.87,1.99)(77.17,2.05)(77.47,2.06)(77.77,1.98)(78.02,1.83)(78.27,1.54)(78.47,1.26)(78.67,.91)(78.87,.62)(79.07,.43)(79.32,.27)(79.57,.17)(79.82,.11)(80.47,.075)(81,.068)(82,.064)(83,.06)(84,.05)(85,.04)(86,.032)(87,.023)(88,.018)(90,.011)(92,.006)(95,.002)};
\addplot[ccyan] coordinates {(60,.29)(61,.275)(62,.285)(63,.30)(64,.31)(65,.32)(66,.335)(67,.35)(68,.36)(69,.37)(70,.37)(71,.372)(72,.37)(73,.372)(73.5,.38)(74.08,.40)(74.58,.45)(74.98,.57)(75.28,.69)(75.58,.84)(75.83,1.07)(76.03,1.3)(76.23,1.52)(76.43,1.74)(76.68,1.91)(76.98,2.03)(77.28,2.09)(77.58,2.10)(77.88,2.02)(78.13,1.87)(78.38,1.57)(78.58,1.29)(78.78,.93)(78.98,.63)(79.18,.44)(79.43,.27)(79.68,.17)(79.93,.11)(80.58,.075)(81,.07)(82,.066)(83,.06)(84,.05)(85,.04)(86,.032)(87,.023)(88,.018)(90,.011)(92,.006)(95,.002)};
\addplot[cblue] coordinates {(60,.28)(60.5,.27)(61,.264)(62,.275)(63,.296)(64,.305)(65,.314)(66,.33)(67,.348)(68,.355)(69,.364)(70,.364)(71,.364)(72,.365)(73,.371)(73.5,.38)(74,.40)(74.5,.45)(74.9,.57)(75.2,.68)(75.5,.83)(75.75,1.05)(75.95,1.28)(76.15,1.5)(76.35,1.72)(76.6,1.88)(76.9,2.0)(77.2,2.06)(77.5,2.07)(77.8,1.99)(78.05,1.84)(78.3,1.55)(78.5,1.27)(78.7,.92)(78.9,.62)(79.1,.43)(79.35,.27)(79.6,.17)(79.85,.11)(80.5,.075)(81,.068)(82,.064)(83,.06)(84,.05)(85,.04)(86,.032)(87,.023)(88,.018)(90,.011)(92,.006)(95,.002)};
\node[anchor=base west, font=\genefont] at (rel axis cs:0.042,0.906) {Unigene49558\_All};
\end{axis}
\end{tikzpicture}
\end{document}
